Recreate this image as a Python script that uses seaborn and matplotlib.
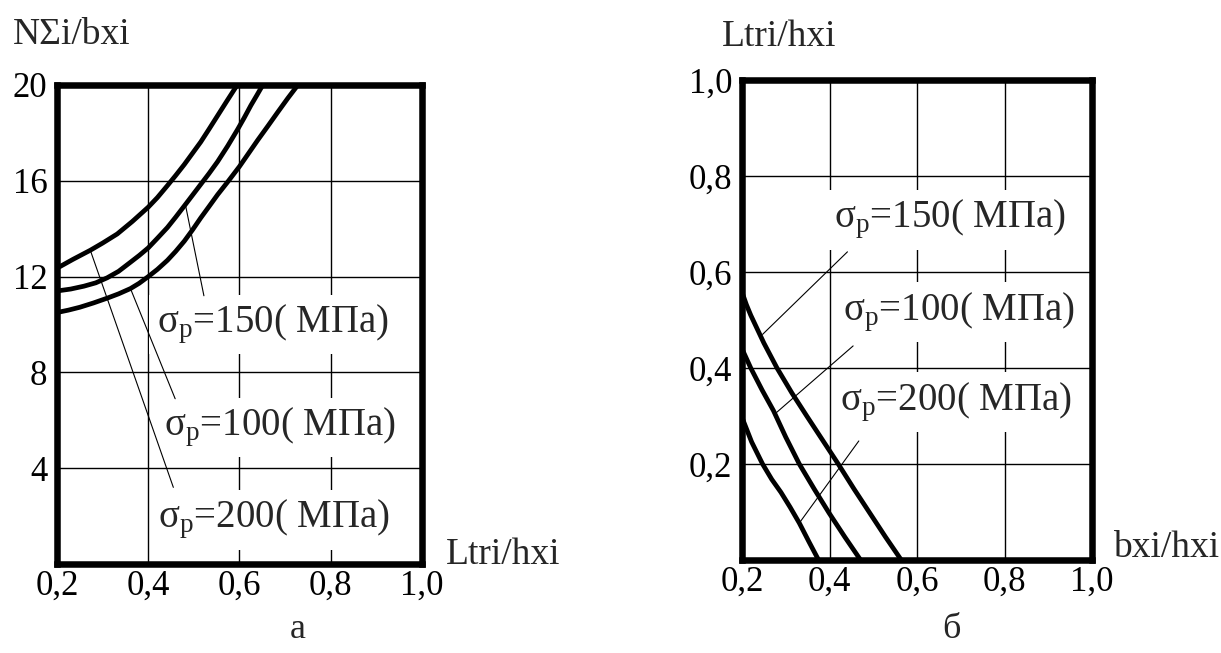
import numpy as np
import pandas as pd
import matplotlib
matplotlib.use("Agg")
import matplotlib.pyplot as plt
import seaborn as sns

# panel a: NΣi/bxi against Ltri/hxi
a_x_200 = [0.2, 0.235, 0.273, 0.30, 0.332, 0.365, 0.4, 0.42, 0.442, 0.46, 0.479,
           0.497, 0.515, 0.533, 0.552, 0.573, 0.595]
a_y_200 = [12.35, 12.72, 13.1, 13.4, 13.78, 14.3, 14.9, 15.3, 15.8, 16.22, 16.68,
           17.15, 17.62, 18.15, 18.72, 19.35, 20.0]
a_x_150 = [0.2, 0.23, 0.259, 0.285, 0.31, 0.335, 0.361, 0.38, 0.4, 0.42, 0.442, 0.46,
           0.479, 0.497, 0.515, 0.533, 0.552, 0.574, 0.596, 0.61, 0.625, 0.638, 0.651]
a_y_150 = [11.4, 11.48, 11.6, 11.74, 11.95, 12.22, 12.6, 12.88, 13.2, 13.6, 14.05, 14.48,
           14.95, 15.4, 15.85, 16.3, 16.8, 17.45, 18.15, 18.62, 19.15, 19.57, 20.0]
a_x_100 = [0.2, 0.225, 0.25, 0.28, 0.31, 0.335, 0.361, 0.38, 0.4, 0.42, 0.442, 0.46, 0.479,
           0.497, 0.515, 0.533, 0.552, 0.576, 0.6, 0.62, 0.64, 0.662, 0.684, 0.706, 0.728]
a_y_100 = [10.5, 10.6, 10.72, 10.9, 11.1, 11.28, 11.5, 11.72, 12.0, 12.3, 12.68, 13.05, 13.48,
           13.95, 14.45, 14.92, 15.42, 16.0, 16.6, 17.15, 17.7, 18.28, 18.87, 19.45, 20.0]

# panel б: Ltri/hxi against bxi/hxi
b_x_150 = [0.2, 0.21, 0.22, 0.25, 0.28, 0.314, 0.348, 0.384, 0.42, 0.456, 0.492, 0.528, 0.564]
b_y_150 = [0.558, 0.532, 0.51, 0.452, 0.40, 0.348, 0.30, 0.25, 0.20, 0.148, 0.098, 0.048, 0.0]
b_x_100 = [0.2, 0.21, 0.22, 0.246, 0.272, 0.30, 0.331, 0.365, 0.399, 0.435, 0.471]
b_y_100 = [0.44, 0.42, 0.40, 0.354, 0.311, 0.256, 0.20, 0.148, 0.098, 0.048, 0.0]
b_x_200 = [0.2, 0.222, 0.247, 0.268, 0.289, 0.31, 0.331, 0.353, 0.375]
b_y_200 = [0.297, 0.246, 0.20, 0.168, 0.141, 0.11, 0.077, 0.038, 0.0]

x_ticks = [0.2, 0.4, 0.6, 0.8, 1.0]
x_ticklabels = ["0,2", "0,4", "0,6", "0,8", "1,0"]
a_y_ticks = [4, 8, 12, 16, 20]
b_y_ticks = [0.2, 0.4, 0.6, 0.8, 1.0]
b_y_ticklabels = ["0,2", "0,4", "0,6", "0,8", "1,0"]

sigma = r"$\mathregular{σ_p}$"
a_labels = [sigma + "=150( МПа)", sigma + "=100( МПа)", sigma + "=200( МПа)"]
a_label_pos = [(0.42, 10.0), (0.434, 5.7), (0.421, 1.85)]
a_leaders = [((0.482, 14.95), (0.522, 11.2)),
             ((0.361, 11.5), (0.459, 6.9)),
             ((0.273, 13.1), (0.455, 3.2))]
b_labels = [sigma + "=150( МПа)", sigma + "=100( МПа)", sigma + "=200( МПа)"]
b_label_pos = [(0.41, 0.709), (0.43, 0.516), (0.425, 0.329)]
b_leaders = [((0.247, 0.47), (0.441, 0.642)),
             ((0.276, 0.305), (0.454, 0.446)),
             ((0.331, 0.077), (0.467, 0.248))]

sns.set_theme(style="white")
plt.rcParams["font.family"] = ["Liberation Serif", "DejaVu Serif"]
plt.rcParams["mathtext.fontset"] = "custom"
plt.rcParams["mathtext.rm"] = "Liberation Serif"
plt.rcParams["mathtext.it"] = "Liberation Serif:italic"

W, H = 1221, 653
fig = plt.figure(figsize=(W / 100, H / 100), dpi=100)
fig.patch.set_facecolor("white")
ax_a = fig.add_axes([57 / W, 1 - 564 / H, (422 - 57) / W, (564 - 85) / H])
ax_b = fig.add_axes([742 / W, 1 - 560 / H, (1092 - 742) / W, (560 - 80) / H])


def style_axes(ax, yticks, yticklabels, ylim):
    ax.set_xlim(0.2, 1.0)
    ax.set_ylim(*ylim)
    ax.set_xticks(x_ticks)
    ax.set_xticklabels(x_ticklabels)
    ax.set_yticks(yticks)
    ax.set_yticklabels(yticklabels)
    ax.tick_params(axis="both", length=0, labelsize=25, colors="black")
    ax.tick_params(axis="y", pad=7)
    ax.tick_params(axis="x", pad=4)
    ax.grid(True, color="black", linewidth=1.0)
    ax.set_axisbelow(True)
    for s in ax.spines.values():
        s.set_visible(True)
        s.set_color("black")
        s.set_linewidth(4.7)
        s.set_zorder(5)
    ax.set_xlabel("")
    ax.set_ylabel("")


curve_kw = dict(color="black", linewidth=3.4, sort=False, estimator=None, legend=False, zorder=4)
for xs, ys in [(a_x_200, a_y_200), (a_x_150, a_y_150), (a_x_100, a_y_100)]:
    sns.lineplot(x=xs, y=ys, ax=ax_a, **curve_kw)
for xs, ys in [(b_x_150, b_y_150), (b_x_100, b_y_100), (b_x_200, b_y_200)]:
    sns.lineplot(x=xs, y=ys, ax=ax_b, **curve_kw)

style_axes(ax_a, a_y_ticks, [str(v) for v in a_y_ticks], (0, 20))
style_axes(ax_b, b_y_ticks, b_y_ticklabels, (0, 1.0))

box = dict(facecolor="white", edgecolor="none", pad=6)
for ax, labels, pos, leaders in [(ax_a, a_labels, a_label_pos, a_leaders),
                                 (ax_b, b_labels, b_label_pos, b_leaders)]:
    for lab, (tx, ty) in zip(labels, pos):
        ax.text(tx, ty, lab, fontsize=28, ha="left", va="center", bbox=box, zorder=3)
    for (x0, y0), (x1, y1) in leaders:
        ax.plot([x0, x1], [y0, y1], color="black", linewidth=0.8, zorder=4)

# axis titles placed like in the scanned figure
fig.text(13 / W, 1 - 35 / H, "NΣi/bxi", fontsize=27, ha="left", va="center")
fig.text(446 / W, 1 - 564 / H, "Ltri/hxi", fontsize=27, ha="left", va="baseline")
fig.text(722 / W, 1 - 37 / H, "Ltri/hxi", fontsize=27, ha="left", va="center")
fig.text(1113 / W, 1 - 557 / H, "bxi/hxi", fontsize=27, ha="left", va="baseline")

fig.text(298 / W, 1 - 630 / H, "а", fontsize=26, ha="center", va="center")
fig.text(951 / W, 1 - 630 / H, "б", fontsize=26, ha="center", va="center")

fig.savefig("out.png", dpi=100, facecolor="white")
